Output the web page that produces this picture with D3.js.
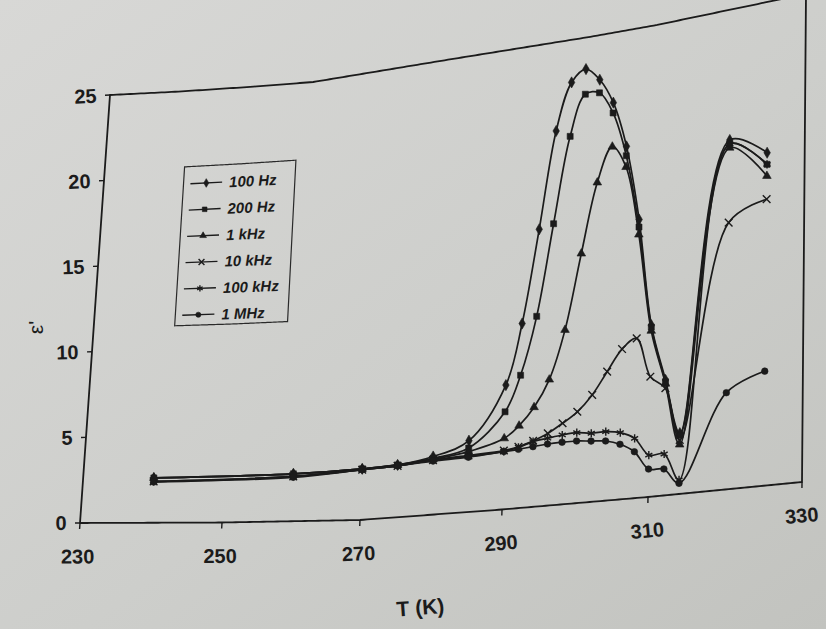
<!DOCTYPE html>
<html>
<head>
<meta charset="utf-8">
<script src="https://cdn.jsdelivr.net/npm/d3@7"></script>
<style>
  html, body { margin: 0; padding: 0; background: #cfd0cc; }
  svg { display: block; }
</style>
</head>
<body>
<svg id="chart" width="826" height="629"></svg>
<script>
// Measurement temperatures (K)
const temperatures = [240, 260, 270, 275, 280, 285, 290, 292, 294, 296, 298, 300, 302, 304, 306, 308, 310, 312, 314, 320, 325];

// Real permittivity ε' at each temperature, one array per frequency
const eps100Hz  = [2.60, 2.70, 2.85, 2.90, 3.20, 3.90, 6.75, 10.0, 15.0, 20.2, 22.7, 23.3, 22.6, 21.25, 18.8, 14.8, 9.1, 6.1, 3.2, 18.2, 17.2];
const eps200Hz  = [2.60, 2.70, 2.85, 2.90, 3.10, 3.50, 5.30, 7.2, 10.3, 15.2, 19.8, 21.95, 21.9, 20.7, 18.3, 14.4, 9.0, 6.0, 3.1, 18.0, 16.6];
const eps1kHz   = [2.60, 2.70, 2.85, 2.90, 3.05, 3.30, 3.86, 4.47, 5.39, 6.8, 9.39, 13.4, 17.1, 18.9, 17.7, 14.0, 8.8, 5.9, 2.6, 17.8, 16.0];
const eps10kHz  = [2.40, 2.55, 2.80, 2.85, 3.00, 3.10, 3.20, 3.33, 3.58, 3.90, 4.37, 4.91, 5.73, 6.89, 8.01, 8.49, 6.37, 5.66, 2.84, 13.9, 14.8];
const eps100kHz = [2.40, 2.55, 2.80, 2.85, 3.00, 3.05, 3.15, 3.30, 3.53, 3.64, 3.74, 3.79, 3.68, 3.69, 3.56, 3.18, 2.22, 2.19, 0.74, 18.0, 16.6];
const eps1MHz   = [2.36, 2.50, 2.80, 2.85, 2.95, 3.00, 3.14, 3.19, 3.26, 3.33, 3.35, 3.34, 3.26, 3.19, 2.94, 2.47, 1.48, 1.40, 0.56, 5.04, 5.92];

const seriesNames = ["100 Hz", "200 Hz", "1 kHz", "10 kHz", "100 kHz", "1 MHz"];
const seriesValues = [eps100Hz, eps200Hz, eps1kHz, eps10kHz, eps100kHz, eps1MHz];

const xTicks = [230, 250, 270, 290, 310, 330];
const yTicks = [0, 5, 10, 15, 20, 25];
const xTitle = "T (K)";
const yTitle = "ε'";

// ---------------------------------------------------------------------------
const W = 826, H = 629;
const ink = "#1b1b1b";
const font = "'Liberation Sans', Arial, Helvetica, sans-serif";
const svg = d3.select("#chart");

// Paper background
const defs = svg.append("defs");
const paper = defs.append("linearGradient").attr("id", "paper")
  .attr("x1", "0").attr("y1", "0").attr("x2", "1").attr("y2", "1");
paper.append("stop").attr("offset", "0").attr("stop-color", "#d8d8d6");
paper.append("stop").attr("offset", "0.55").attr("stop-color", "#cdcecb");
paper.append("stop").attr("offset", "1").attr("stop-color", "#c2c3bf");
svg.append("rect").attr("width", W).attr("height", H).attr("fill", "url(#paper)");

// The printed sheet is bent, so the plot frame is described by its lower
// (ε' = 0) and upper (ε' = 25) edges, each a polylinear scale of temperature.
const nodeT = d3.range(230, 331, 10);
const lowerX = d3.scaleLinear().domain(nodeT).range([80, 151, 222, 291, 360, 431, 502, 575, 648, 725, 802]);
const lowerY = d3.scaleLinear().domain(nodeT).range([523, 522.75, 522.5, 521.25, 520, 514.75, 509.5, 503.25, 497, 489.5, 482]);
const upperX = d3.scaleLinear().domain(nodeT).range([110, 178.4, 246.8, 313.2, 379.6, 448, 516.4, 586.8, 657.2, 731.6, 806]);
const upperY = d3.scaleLinear().domain(nodeT).range([95, 91.6, 87.1, 82, 71, 59.7, 48.7, 37.4, 24.9, 9.4, -6]);
const yScale = d3.scaleLinear().domain([0, 25]).range([0, 1]);

// Map (temperature, ε') to a point on the sheet
function pt(T, e) {
  const k = yScale(e);
  return [lowerX(T) + k * (upperX(T) - lowerX(T)), lowerY(T) + k * (upperY(T) - lowerY(T))];
}
function unit(a, b) {
  const dx = b[0] - a[0], dy = b[1] - a[1], L = Math.hypot(dx, dy);
  return [dx / L, dy / L];
}
// local "along T" and "up ε'" directions
const dirT = (T, e) => unit(pt(T - 0.25, e), pt(T + 0.25, e));
const dirE = (T, e) => unit(pt(T, e - 0.1), pt(T, e + 0.1));
const angleAt = (T, e) => { const d = dirT(T, e); return Math.atan2(d[1], d[0]) * 180 / Math.PI; };

// ---------------------------------------------------------------------------
// Plot frame
const step = 0.5;
const frame = [];
d3.range(230, 330 + 1e-9, step).forEach(t => frame.push(pt(t, 0)));
d3.range(0, 25 + 1e-9, step).forEach(e => frame.push(pt(330, e)));
d3.range(330, 230 - 1e-9, -step).forEach(t => frame.push(pt(t, 25)));
d3.range(25, 0 - 1e-9, -step).forEach(e => frame.push(pt(230, e)));
svg.append("path")
  .attr("d", d3.line()(frame) + "Z")
  .attr("fill", "none").attr("stroke", ink).attr("stroke-width", 1.8)
  .attr("stroke-linejoin", "round");

// X axis ticks and labels
const gx = svg.append("g");
xTicks.forEach(t => {
  const p = pt(t, 0), u = dirE(t, 0);
  gx.append("line")
    .attr("x1", p[0]).attr("y1", p[1])
    .attr("x2", p[0] - u[0] * 6).attr("y2", p[1] - u[1] * 6)
    .attr("stroke", ink).attr("stroke-width", 1.4);
  const q = [p[0] - u[0] * 33.5, p[1] - u[1] * 33.5];
  gx.append("text")
    .attr("transform", `translate(${q[0]},${q[1]}) rotate(${angleAt(t, 0)})`)
    .attr("text-anchor", "middle").attr("dominant-baseline", "central")
    .attr("font-family", font).attr("font-weight", "bold").attr("font-size", 20)
    .attr("fill", ink).text(t);
});

// Y axis ticks and labels
const gy = svg.append("g");
yTicks.forEach(e => {
  const p = pt(230, e), d = dirT(230, e);
  gy.append("line")
    .attr("x1", p[0]).attr("y1", p[1])
    .attr("x2", p[0] - d[0] * 5).attr("y2", p[1] - d[1] * 5)
    .attr("stroke", ink).attr("stroke-width", 1.4);
  const q = [p[0] - d[0] * 13.5, p[1] - d[1] * 13.5];
  gy.append("text")
    .attr("transform", `translate(${q[0]},${q[1]}) rotate(${angleAt(230, e)})`)
    .attr("text-anchor", "end").attr("dominant-baseline", "central")
    .attr("font-family", font).attr("font-weight", "bold").attr("font-size", 20)
    .attr("fill", ink).text(e);
});

// Axis titles
{
  const p = pt(279, 0), u = dirE(279, 0);
  const q = [p[0] - u[0] * 92, p[1] - u[1] * 92];
  svg.append("text")
    .attr("transform", `translate(${q[0]},${q[1]}) rotate(${angleAt(279, 0)})`)
    .attr("text-anchor", "middle").attr("dominant-baseline", "central")
    .attr("font-family", font).attr("font-weight", "bold").attr("font-size", 21)
    .attr("fill", ink).text(xTitle);
}
{
  const p = pt(230, 11.5), d = dirT(230, 11.5);
  const q = [p[0] - d[0] * 58, p[1] - d[1] * 58];
  svg.append("text")
    .attr("transform", `translate(${q[0]},${q[1]}) rotate(-90)`)
    .attr("text-anchor", "middle").attr("dominant-baseline", "central")
    .attr("font-family", font).attr("font-size", 21)
    .attr("fill", ink).text(yTitle);
}

// ---------------------------------------------------------------------------
// Marker shapes per series (filled or stroked)
const symTimes = d3.symbolTimes || d3.symbolX || d3.symbolCross;
const symAst = d3.symbolAsterisk || d3.symbolCross;
const markers = [
  { type: d3.symbolDiamond, size: 36, fill: true },
  { type: d3.symbolSquare, size: 36, fill: true },
  { type: d3.symbolTriangle, size: 32, fill: true },
  { type: symTimes, size: 40, fill: false },
  { type: symAst, size: 46, fill: false },
  { type: d3.symbolCircle, size: 34, fill: true }
];

function drawMarker(g, m, p, scale) {
  g.append("path")
    .attr("d", d3.symbol().type(m.type).size(m.size * (scale || 1))())
    .attr("transform", `translate(${p[0]},${p[1]})`)
    .attr("fill", m.fill ? ink : "none")
    .attr("stroke", ink).attr("stroke-width", m.fill ? 0.6 : 1.4);
}

const curve = d3.curveCatmullRom.alpha(0.5);
const gSeries = svg.append("g");
seriesValues.forEach((vals, si) => {
  const pts = temperatures.map((t, i) => pt(t, vals[i]));
  const g = gSeries.append("g");
  g.append("path")
    .attr("d", d3.line().curve(curve)(pts))
    .attr("fill", "none").attr("stroke", ink).attr("stroke-width", 1.7)
    .attr("stroke-linejoin", "round");
  pts.forEach(p => drawMarker(g, markers[si], p));
});

// ---------------------------------------------------------------------------
// Legend, laid out on the sheet in data units
const legT0 = 241.6, legT1 = 258, legE0 = 11.4, legE1 = 20.6;
const box = [];
d3.range(legT0, legT1 + 1e-9, 0.25).forEach(t => box.push(pt(t, legE1)));
d3.range(legE1, legE0 - 1e-9, -0.25).forEach(e => box.push(pt(legT1, e)));
d3.range(legT1, legT0 - 1e-9, -0.25).forEach(t => box.push(pt(t, legE0)));
d3.range(legE0, legE1 + 1e-9, 0.25).forEach(e => box.push(pt(legT0, e)));
svg.append("path").attr("d", d3.line()(box) + "Z")
  .attr("fill", "none").attr("stroke", "#2a2a2a").attr("stroke-width", 1.2);

const gLeg = svg.append("g");
seriesNames.forEach((name, i) => {
  const e = 19.6 - 1.52 * i;
  const a = pt(242.6, e), b = pt(247.2, e);
  gLeg.append("line")
    .attr("x1", a[0]).attr("y1", a[1]).attr("x2", b[0]).attr("y2", b[1])
    .attr("stroke", ink).attr("stroke-width", 1.4);
  drawMarker(gLeg, markers[i], pt(244.9, e), 0.6);
  const q = pt(248.2, e);
  gLeg.append("text")
    .attr("transform", `translate(${q[0]},${q[1]}) rotate(${angleAt(248.2, e)})`)
    .attr("dominant-baseline", "central")
    .attr("font-family", font).attr("font-weight", "bold").attr("font-style", "italic")
    .attr("font-size", 15).attr("fill", ink).text(name);
});
</script>
</body>
</html>
